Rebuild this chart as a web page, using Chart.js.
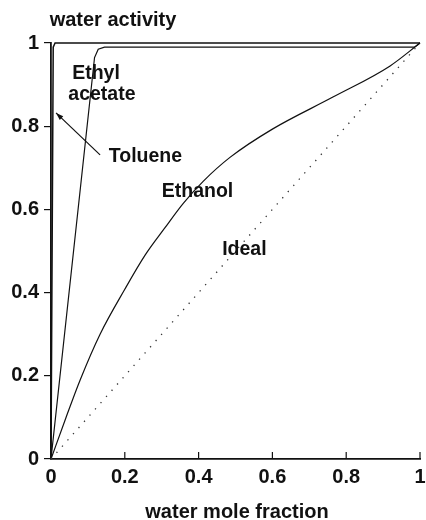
<!DOCTYPE html>
<html><head><meta charset="utf-8">
<script src="https://cdn.jsdelivr.net/npm/chart.js@4.4.1/dist/chart.umd.min.js"></script>
<style>html,body{margin:0;padding:0;background:#fff;} #wrap{width:426px;height:520px;position:relative;}</style>
</head><body><div id="wrap"><canvas id="c"></canvas></div>
<script>
const tickValues = [0, 0.2, 0.4, 0.6, 0.8, 1];
const tickLabels = ['0', '0.2', '0.4', '0.6', '0.8', '1'];
const tolueneX = [0, 0.006, 0.011, 1];
const tolueneY = [0, 0.99, 1, 1];
const ethylAcetateX = [0, 0.118, 0.128, 0.145, 0.985, 1];
const ethylAcetateY = [0, 0.965, 0.985, 0.99, 0.99, 1];
const ethanolX = [0, 0.04, 0.079, 0.133, 0.2, 0.255, 0.309, 0.359, 0.413, 0.485, 0.6, 0.764, 0.919, 1];
const ethanolY = [0, 0.098, 0.19, 0.300, 0.408, 0.49, 0.556, 0.615, 0.668, 0.725, 0.793, 0.87, 0.945, 1];
const idealX = [0, 1];
const idealY = [0, 1];
const labelTexts = ['Ethyl', 'acetate', 'Toluene', 'Ethanol', 'Ideal'];
const labelX = [0.122, 0.138, 0.256, 0.397, 0.524];
const labelY = [0.913, 0.863, 0.714, 0.630, 0.490];
const arrowFrom = [0.133, 0.731];
const arrowTo = [0.0136, 0.832];
const yTitle = 'water activity';
const xTitle = 'water mole fraction';

const FONT = '"Liberation Sans", Arial, sans-serif';
const INK = '#111';
const pts = (xs, ys) => xs.map((v, i) => ({x: v, y: ys[i]}));
const fmt = (v) => { const i = tickValues.findIndex(t => Math.abs(t - v) < 1e-9); return i >= 0 ? tickLabels[i] : ''; };

const overlay = {
  id: 'overlay',
  afterDraw(chart) {
    const {ctx, chartArea} = chart;
    const x = chart.scales.x, y = chart.scales.y;
    ctx.save();
    ctx.strokeStyle = INK; ctx.lineWidth = 1.2;
    tickValues.forEach(v => {
      if (v === 0) return;
      const px = x.getPixelForValue(v);
      ctx.beginPath(); ctx.moveTo(px, chartArea.bottom); ctx.lineTo(px, chartArea.bottom - 7); ctx.stroke();
    });
    ctx.fillStyle = INK;
    ctx.font = 'bold 19.5px ' + FONT;
    ctx.textAlign = 'center'; ctx.textBaseline = 'alphabetic';
    labelTexts.forEach((t, i) => ctx.fillText(t, x.getPixelForValue(labelX[i]), y.getPixelForValue(labelY[i])));
    const x0 = x.getPixelForValue(arrowFrom[0]), y0 = y.getPixelForValue(arrowFrom[1]);
    const x1 = x.getPixelForValue(arrowTo[0]), y1 = y.getPixelForValue(arrowTo[1]);
    ctx.lineWidth = 1.2;
    ctx.beginPath(); ctx.moveTo(x0, y0); ctx.lineTo(x1, y1); ctx.stroke();
    const ang = Math.atan2(y1 - y0, x1 - x0), hl = 8, ha = 0.32;
    ctx.beginPath();
    ctx.moveTo(x1, y1);
    ctx.lineTo(x1 - hl * Math.cos(ang - ha), y1 - hl * Math.sin(ang - ha));
    ctx.lineTo(x1 - hl * Math.cos(ang + ha), y1 - hl * Math.sin(ang + ha));
    ctx.closePath(); ctx.fill();
    ctx.font = 'bold 20px ' + FONT;
    ctx.fillText(yTitle, chartArea.left + 62, chartArea.top - 17);
    ctx.fillText(xTitle, (chartArea.left + chartArea.right) / 2 + 1.5, chartArea.bottom + 59);
    ctx.restore();
  }
};

const lineDs = (label, xs, ys, extra) => Object.assign({
  label, data: pts(xs, ys), showLine: true, pointRadius: 0, borderColor: INK,
  borderWidth: 1.2, tension: 0, clip: 4, fill: false
}, extra || {});

new Chart(document.getElementById('c'), {
  type: 'scatter',
  data: {
    datasets: [
      lineDs('Ideal', idealX, idealY, {borderDash: [1.3, 7], borderWidth: 1.3, borderColor: '#333'}),
      lineDs('Toluene', tolueneX, tolueneY, {borderWidth: 1.5}),
      lineDs('Ethyl acetate', ethylAcetateX, ethylAcetateY),
      lineDs('Ethanol', ethanolX, ethanolY, {cubicInterpolationMode: 'monotone'})
    ]
  },
  options: {
    responsive: true, maintainAspectRatio: false, animation: false,
    layout: {padding: {top: 43, right: 6, left: 0, bottom: 0}},
    plugins: {legend: {display: false}, tooltip: {enabled: false}},
    scales: {
      x: {
        type: 'linear', min: 0, max: 1,
        afterFit(s) { s.height = 61; s.paddingRight = 0; s.paddingLeft = 0; },
        afterBuildTicks(s) { s.ticks = tickValues.map(v => ({value: v})); },
        ticks: {color: INK, padding: 6, maxRotation: 0, callback: fmt, font: {family: FONT, size: 20, weight: 'bold'}},
        grid: {display: false, drawTicks: false},
        border: {display: true, color: INK, width: 1.8}
      },
      y: {
        type: 'linear', min: 0, max: 1,
        afterFit(s) { s.width = 51; },
        afterBuildTicks(s) { s.ticks = tickValues.map(v => ({value: v})); },
        ticks: {color: INK, padding: 5, callback: fmt, font: {family: FONT, size: 20, weight: 'bold'}},
        grid: {drawOnChartArea: false, drawTicks: true, tickLength: 7, color: INK, lineWidth: 1.2},
        border: {display: true, color: INK, width: 1.8}
      }
    }
  },
  plugins: [overlay]
});
</script>
</body></html>
